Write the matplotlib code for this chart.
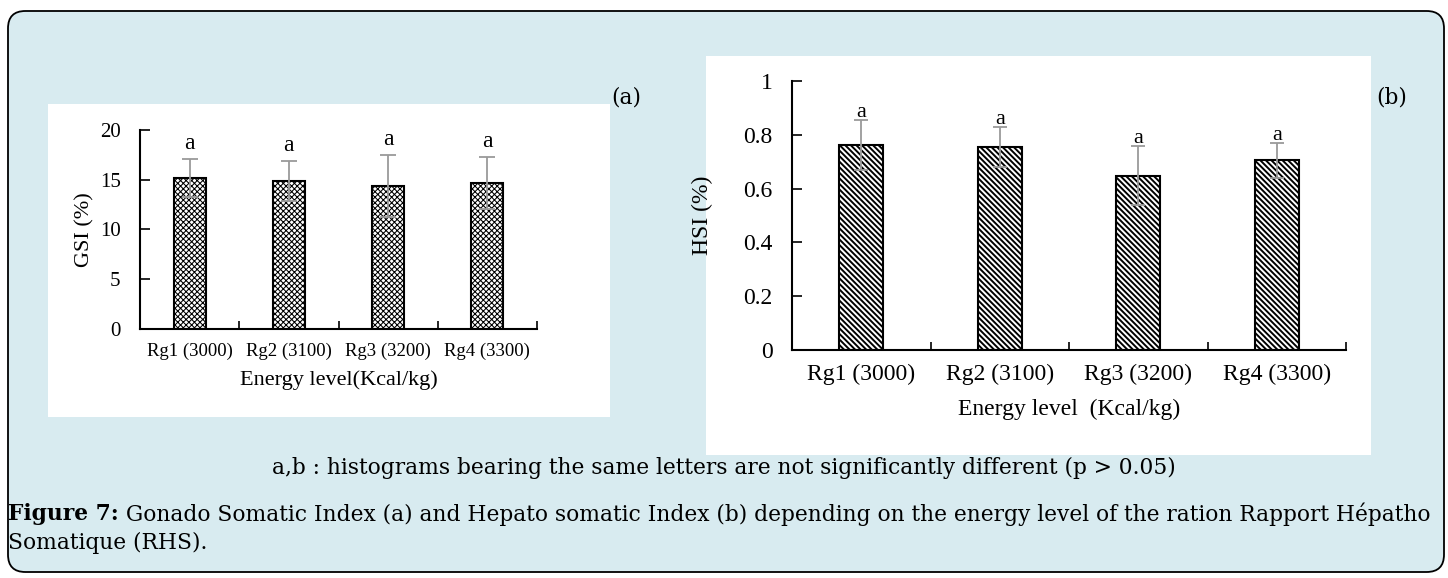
import matplotlib
matplotlib.use("Agg")
import matplotlib.pyplot as plt
from matplotlib.patches import FancyBboxPatch, Rectangle
import numpy as np

# ---- data ----
categories = ["Rg1 (3000)", "Rg2 (3100)", "Rg3 (3200)", "Rg4 (3300)"]
gsi_mean = [15.2, 14.9, 14.4, 14.7]
gsi_sd = [1.9, 2.0, 3.1, 2.6]
gsi_letters = ["a", "a", "a", "a"]
hsi_mean = [0.762, 0.755, 0.648, 0.705]
hsi_sd = [0.093, 0.073, 0.11, 0.065]
hsi_letters = ["a", "a", "a", "a"]
gsi_yticks = [0, 5, 10, 15, 20]
hsi_yticks = [0, 0.2, 0.4, 0.6, 0.8, 1]
hsi_yticklabels = ["0", "0.2", "0.4", "0.6", "0.8", "1"]

caption1 = "a,b : histograms bearing the same letters are not significantly different (p > 0.05)"
caption2_bold = "Figure 7:"
caption2 = " Gonado Somatic Index (a) and Hepato somatic Index (b) depending on the energy level of the ration Rapport Hépatho"
caption3 = "Somatique (RHS)."

W, H = 1448, 578
fig = plt.figure(figsize=(W / 100, H / 100), dpi=100)
fig.patch.set_facecolor("white")

def fx(px):
    return px / W

def fy(py):
    return 1 - py / H

def box(x0, y0, x1, y1):
    return [fx(x0), fy(y1), fx(x1 - x0), (y1 - y0) / H]

# outer rounded panel
outer = FancyBboxPatch((fx(8), fy(572)), fx(1436), (572 - 11) / H,
                       boxstyle="round,pad=0,rounding_size=0.012",
                       transform=fig.transFigure, facecolor="#d8ebf0",
                       edgecolor="black", linewidth=1.3, mutation_aspect=W / H,
                       zorder=-5)
fig.patches.append(outer)

# white chart panels
for (x0, y0, x1, y1) in [(48, 104, 610, 417), (706, 56, 1371, 455)]:
    fig.patches.append(Rectangle((fx(x0), fy(y1)), fx(x1 - x0), (y1 - y0) / H,
                                 transform=fig.transFigure, facecolor="white",
                                 edgecolor="none", zorder=-4))

serif = "Liberation Serif"
cap_font = "DejaVu Serif"

def draw_panel(rect, means, sds, letters, yticks, yticklabels, ylim, hatch, hatch_lw,
               ylabel, xlabel, tick_fs, xtick_fs, label_fs, letter_fs,
               letter_off, capsize, xlabelpad, ylabelpad):
    ax = fig.add_axes(rect)
    ax.set_facecolor("none")
    x = np.arange(1, len(means) + 1)
    with plt.rc_context({"hatch.linewidth": hatch_lw}):
        bars = ax.bar(x, means, width=0.32, color="white", edgecolor="black",
                      linewidth=1.5, hatch=hatch, zorder=2)
    for b in bars:
        if hasattr(b, "set_hatch_linewidth"):
            b.set_hatch_linewidth(hatch_lw)
    ax.errorbar(x, means, yerr=sds, fmt="none", ecolor="#9a9a9a",
                elinewidth=1.3, capsize=capsize, capthick=1.3, zorder=3)
    for xi, m, s, lt in zip(x, means, sds, letters):
        ax.text(xi, m + s + letter_off, lt, ha="center", va="bottom",
                fontsize=letter_fs, family=serif, zorder=4)
    ax.set_xlim(0.5, len(means) + 0.5)
    ax.set_ylim(*ylim)
    ax.set_yticks(yticks)
    ax.set_yticklabels(yticklabels, fontsize=tick_fs, family=serif)
    ax.set_xticks(x)
    ax.set_xticklabels(categories, fontsize=xtick_fs, family=serif)
    ax.set_xticks(np.arange(1.5, len(means) + 1.0, 1.0), minor=True)
    ax.tick_params(axis="x", which="major", length=0, pad=10)
    ax.tick_params(axis="x", which="minor", direction="in", length=6, width=1.2)
    ax.tick_params(axis="y", direction="in", length=7, width=1.2, pad=14)
    for s in ["top", "right"]:
        ax.spines[s].set_visible(False)
    for s in ["left", "bottom"]:
        ax.spines[s].set_linewidth(1.5)
    ax.set_ylabel(ylabel, fontsize=label_fs, family=serif, labelpad=ylabelpad)
    ax.set_xlabel(xlabel, fontsize=label_fs, family=serif, labelpad=xlabelpad)
    return ax

# panel (a)
draw_panel(box(140, 130, 537, 329), gsi_mean, gsi_sd, gsi_letters,
           gsi_yticks, [str(v) for v in gsi_yticks], (0, 20), "xxxxxx", 0.75,
           "GSI (%)", "Energy level(Kcal/kg)", 15, 13.5, 16, 17,
           0.5, 6, 7, 4)

# panel (b)
draw_panel(box(792, 81, 1346, 350), hsi_mean, hsi_sd, hsi_letters,
           hsi_yticks, hsi_yticklabels, (0, 1), "\\\\\\\\\\\\", 1.4,
           "HSI (%)", "Energy level  (Kcal/kg)", 17, 17, 17, 16,
           -0.008, 5, 10, 22)

# captions: fit font size so that line 2 spans x=8..1433
cap_fs = 16.0
fig.canvas.draw()
r = fig.canvas.get_renderer()
tmp_b = fig.text(0, 0, caption2_bold, fontsize=cap_fs, family=cap_font, fontweight="bold")
tmp_r = fig.text(0, 0, caption2, fontsize=cap_fs, family=cap_font)
wsum = tmp_b.get_window_extent(r).width + tmp_r.get_window_extent(r).width
tmp_b.remove(); tmp_r.remove()
cap_fs = cap_fs * (1433 - 8) / wsum

fig.text(fx(626), fy(98), "(a)", fontsize=cap_fs, family=cap_font, ha="center", va="center")
fig.text(fx(1392), fy(98), "(b)", fontsize=cap_fs, family=cap_font, ha="center", va="center")

fig.text(0.5, fy(468), caption1, fontsize=cap_fs, family=cap_font, ha="center", va="center")
t_b = fig.text(fx(8), fy(514), caption2_bold, fontsize=cap_fs, family=cap_font,
               fontweight="bold", ha="left", va="center")
bb = t_b.get_window_extent(r)
fig.text(bb.x1 / W, fy(514), caption2, fontsize=cap_fs, family=cap_font, ha="left", va="center")
fig.text(fx(8), fy(543), caption3, fontsize=cap_fs, family=cap_font, ha="left", va="center")

fig.savefig("out.png", dpi=100)
